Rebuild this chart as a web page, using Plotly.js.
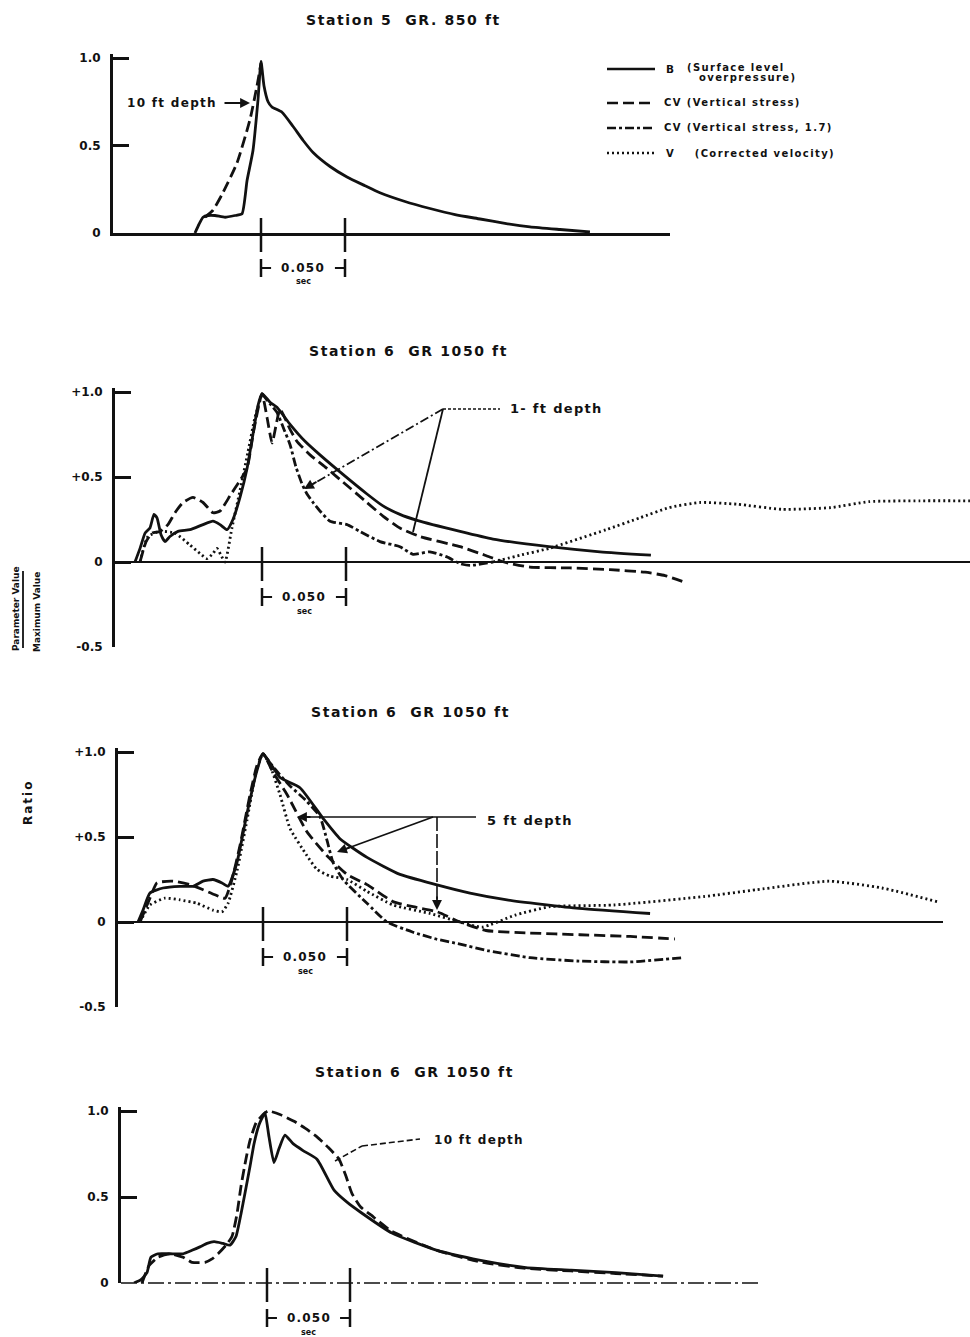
<!DOCTYPE html>
<html>
<head>
<meta charset="utf-8">
<script src="https://cdn.plot.ly/plotly-3.0.1.min.js"></script>
<style>html,body{margin:0;padding:0;background:#fff;}#chart{width:970px;height:1337px;}</style>
</head>
<body>
<div id="chart"></div>
<script>
// ---------------- DATA (time in ms from the peak mark, value = parameter / maximum) ----------------
// Panel 1 : Station 5, GR 850 ft, 10 ft depth
const s5_B_t = [-39.3,-36.9,-34.5,-31.5,-27.4,-21.4,-15.5,-11.3,-8.3,-4.8,-1.8,0,1.8,4.2,6.5,12.5,19.0,25.0,31.0,41.1,51.2,61.9,70.8,85.7,100.6,115.5,130.4,145.2,160.1,178.0,195.8];
const s5_B_v = [0,0.05,0.09,0.10,0.10,0.09,0.10,0.11,0.30,0.47,0.76,0.98,0.84,0.75,0.72,0.69,0.61,0.53,0.46,0.38,0.32,0.27,0.23,0.18,0.14,0.105,0.08,0.055,0.035,0.02,0.006];
const s5_CV_t = [-33.3,-28.6,-23.2,-14.3,-6.5,-2.4,0];
const s5_CV_v = [0.09,0.13,0.22,0.40,0.65,0.84,0.97];

// Panel 2 : Station 6, GR 1050 ft, 1 ft depth
const s6a_B_t = [-75.6,-72.6,-69.6,-66.7,-64.3,-62.5,-60.1,-57.7,-54.8,-50.0,-42.9,-35.1,-29.2,-25.0,-20.8,-17.3,-13.1,-8.9,-5.4,-2.4,0,4.8,8.9,16.7,25.6,34.5,46.4,62.5,72.0,82.1,92.3,117.9,137.5,170.8,201.2,231.5];
const s6a_B_v = [0,0.08,0.17,0.20,0.28,0.26,0.16,0.12,0.15,0.18,0.19,0.22,0.24,0.22,0.19,0.25,0.38,0.55,0.75,0.92,0.99,0.94,0.91,0.81,0.71,0.63,0.53,0.40,0.33,0.28,0.245,0.18,0.135,0.09,0.06,0.04];
const s6a_CV_t = [-72.6,-69.0,-65.5,-60.7,-56.0,-51.8,-47.0,-41.1,-35.1,-29.2,-25.0,-19.0,-13.1,-8.9,-4.8,0,3.0,6.0,8.3,10.7,16.7,20.8,28.6,37.5,49.4,61.3,72.0,82.1,94.0,117.9,132.7,144.0,159.5,183.3,207.1,228.0,239.9,251.8];
const s6a_CV_v = [0,0.12,0.17,0.18,0.22,0.29,0.35,0.38,0.35,0.29,0.30,0.39,0.48,0.55,0.78,0.99,0.85,0.70,0.80,0.90,0.78,0.71,0.63,0.56,0.46,0.36,0.27,0.20,0.15,0.09,0.04,0.0,-0.03,-0.035,-0.045,-0.06,-0.08,-0.12];
const s6a_CV17_t = [0,4.8,8.9,13.1,16.7,20.2,23.8,26.8,30.4,34.5,40.5,50.6,58.3,70.2,82.1,89.9,100.0,110.1,117.9,123.8,137.5];
const s6a_CV17_v = [0.99,0.93,0.88,0.78,0.69,0.56,0.46,0.40,0.35,0.30,0.24,0.22,0.18,0.12,0.09,0.045,0.06,0.03,-0.01,-0.02,0.0];
const s6a_V_t = [-72.6,-67.9,-60.7,-51.8,-42.9,-36.9,-32.7,-29.2,-26.8,-24.4,-22.0,-17.9,-13.1,-8.3,-4.2,0,null,137.5,153.6,170.8,204.8,225.0,242.3,260.7,282.7,309.5,338.7,361.3,391.7,421.4];
const s6a_V_v = [0,0.15,0.18,0.17,0.10,0.05,0.02,0.05,0.08,0.04,0.0,0.2,0.42,0.65,0.85,0.99,null,0.0,0.04,0.08,0.19,0.26,0.32,0.35,0.34,0.31,0.32,0.355,0.36,0.36];

// Panel 3 : Station 6, GR 1050 ft, 5 ft depth
const s6b_B_t = [-74.4,-71.4,-67.3,-59.5,-49.4,-41.7,-35.7,-29.8,-24.4,-20.8,-15.5,-9.5,-3.6,0,10.1,22.0,35.7,45.8,61.9,81.5,103.0,123.2,145.2,188.1,230.4];
const s6b_B_v = [0,0.07,0.17,0.20,0.21,0.21,0.24,0.25,0.23,0.21,0.35,0.64,0.89,0.99,0.85,0.79,0.61,0.49,0.38,0.28,0.22,0.17,0.13,0.08,0.05];
const s6b_CV_t = [-73.2,-67.3,-63.1,-53.6,-43.5,-35.7,-28.6,-22.6,-18.5,-13.7,-7.7,-3.6,0,6.0,14.3,26.2,38.1,50.0,61.9,77.4,89.3,103.6,117.3,132.7,158.9,188.7,218.5,245.2];
const s6b_CV_v = [0,0.14,0.23,0.24,0.22,0.19,0.16,0.14,0.25,0.45,0.75,0.92,0.99,0.88,0.75,0.53,0.39,0.28,0.22,0.12,0.09,0.06,0.0,-0.05,-0.065,-0.075,-0.085,-0.10];
const s6b_CV17_t = [0,7.1,16.1,25.0,33.9,38.1,41.7,47.6,61.9,73.8,89.3,103.0,117.3,134.5,158.9,188.1,218.5,249.4];
const s6b_CV17_v = [0.99,0.9,0.8,0.72,0.62,0.48,0.35,0.25,0.11,0.0,-0.06,-0.10,-0.13,-0.17,-0.21,-0.23,-0.235,-0.21];
const s6b_V_t = [-73.2,-67.3,-58.3,-49.4,-39.3,-29.8,-24.4,-20.8,-15.5,-9.5,-4.2,0,4.2,10.1,16.1,26.2,32.1,39.9,50.0,61.9,77.4,99.4,117.3,130.4,150.0,170.8,208.9,262.5,294.0,336.9,368.5,401.2];
const s6b_V_v = [0,0.10,0.14,0.13,0.11,0.07,0.06,0.11,0.30,0.60,0.88,0.99,0.92,0.75,0.55,0.39,0.31,0.27,0.25,0.18,0.10,0.05,0.0,-0.03,0.04,0.09,0.10,0.15,0.19,0.24,0.20,0.12];

// Panel 4 : Station 6, GR 1050 ft, 10 ft depth
const s6c_B_t = [-80.1,-75.9,-72.3,-69.9,-65.7,-58.4,-50.6,-45.2,-40.4,-36.1,-31.9,-26.5,-22.3,-18.7,-15.7,-13.3,-10.2,-7.8,-4.8,-2.4,-1.2,1.2,4.2,7.2,10.8,15.7,21.7,30.1,40.4,48.2,56.6,75.3,102.4,129.5,156.0,183.1,210.2,238.6];
const s6c_B_v = [0,0.02,0.06,0.15,0.17,0.17,0.17,0.19,0.21,0.23,0.24,0.23,0.22,0.27,0.40,0.52,0.68,0.81,0.92,0.97,0.99,0.85,0.70,0.78,0.86,0.81,0.77,0.72,0.54,0.47,0.41,0.29,0.19,0.13,0.09,0.075,0.06,0.04];
const s6c_CV_t = [-75.3,-71.1,-65.7,-58.4,-50.6,-45.2,-37.3,-33.1,-29.5,-24.7,-21.1,-18.1,-15.7,-12.7,-10.2,-6.6,-2.4,0.6,7.8,16.3,22.9,30.1,36.7,43.4,47.6,51.2,56.6,62.0,75.3,102.4,129.5,156.0,183.1,210.2,238.6];
const s6c_CV_v = [0,0.10,0.15,0.17,0.15,0.12,0.12,0.14,0.17,0.22,0.27,0.40,0.56,0.72,0.83,0.93,0.98,1.0,0.98,0.94,0.90,0.85,0.79,0.72,0.62,0.52,0.44,0.40,0.30,0.19,0.12,0.085,0.07,0.055,0.04];

// Tick values / labels and text
const ticks_pos = [0, 0.5, 1];
const ticks_pos_text = ['0', '0.5', '1.0'];
const ticks_signed = [-0.5, 0, 0.5, 1];
const ticks_signed_text = ['-0.5', '0', '+0.5', '+1.0'];
const scale_marks_ms = [0, 50];
const scale_label = '0.050';
const scale_unit = 'sec';
const panel_titles = ['Station 5  GR. 850 ft', 'Station 6  GR 1050 ft', 'Station 6  GR 1050 ft', 'Station 6  GR 1050 ft'];
const depth_labels = ['10 ft depth', '1- ft depth', '5 ft depth', '10 ft depth'];
const series_names = ['B', 'CV', 'CV', 'V'];
const series_desc = ['(Surface level', 'overpressure)', '(Vertical stress)', '(Vertical stress, 1.7)', '(Corrected velocity)'];

// ---------------- LAYOUT / STYLE ----------------
const W = 970, H = 1337;
const INK = '#111';
const FONT = 'DejaVu Sans, Liberation Sans, Arial, sans-serif';
const fx = px => px / W;
const fy = py => 1 - py / H;
const DASH = { B: 'solid', CV: '11px,5px', CV17: '9px,3px,3px,3px', V: '2px,3px' };
const sp = (s, ls) => '<span style="letter-spacing:' + ls + 'px">' + s + '</span>';

const PANELS = [
  { id: '',  left: 113, right: 670, top: 58,   bottom: 233,  ymin: 0,    peak: 261, pxms: 1.68, tv: ticks_pos,    tt: ticks_pos_text,    base: 'axis' },
  { id: '2', left: 115, right: 970, top: 392,  bottom: 647,  ymin: -0.5, peak: 262, pxms: 1.68, tv: ticks_signed, tt: ticks_signed_text, base: 'zero' },
  { id: '3', left: 118, right: 943, top: 752,  bottom: 1007, ymin: -0.5, peak: 263, pxms: 1.68, tv: ticks_signed, tt: ticks_signed_text, base: 'zero' },
  { id: '4', left: 121, right: 761, top: 1111, bottom: 1283, ymin: 0,    peak: 267, pxms: 1.66, tv: ticks_pos,    tt: ticks_pos_text,    base: 'dashed' }
];
const TITLE_POS = [[403, 20], [408, 351], [410, 712], [414, 1072]];

const layout = {
  width: W, height: H, margin: { l: 0, r: 0, t: 0, b: 0 },
  paper_bgcolor: '#fff', plot_bgcolor: 'rgba(0,0,0,0)', showlegend: false,
  font: { family: FONT, color: INK }, shapes: [], annotations: []
};
const bold = (size) => ({ family: FONT, size: size, color: INK, weight: 'bold' });
const text = (t, xpx, ypx, size, extra) => Object.assign({ text: t, xref: 'paper', yref: 'paper', x: fx(xpx), y: fy(ypx), showarrow: false, font: bold(size), xanchor: 'center', yanchor: 'middle' }, extra || {});
const EXT = 4;

PANELS.forEach((p, i) => {
  const unit = (p.bottom - p.top) / (1 - p.ymin);
  p.unit = unit;
  p.zeroPx = p.top + unit;
  p.xa = 'x' + p.id; p.ya = 'y' + p.id;
  layout['xaxis' + p.id] = {
    domain: [fx(p.left), fx(p.right)],
    range: [(p.left - p.peak) / p.pxms, (p.right - p.peak) / p.pxms],
    anchor: p.ya, showline: p.base === 'axis', linewidth: 2.5, linecolor: INK,
    showticklabels: false, ticks: '', showgrid: false, zeroline: false, fixedrange: true
  };
  layout['yaxis' + p.id] = {
    domain: [fy(p.bottom), fy(p.top - EXT)],
    range: [p.ymin, 1 + EXT / unit],
    anchor: p.xa, showline: true, linewidth: 3, linecolor: INK,
    ticks: 'inside', ticklen: 16, tickwidth: 3, tickcolor: INK,
    tickmode: 'array', tickvals: p.tv, ticktext: p.tt, tickfont: bold(12), ticklabelstandoff: 7,
    showgrid: false, zeroline: p.base === 'zero', zerolinewidth: 2, zerolinecolor: INK, fixedrange: true
  };
  if (p.base === 'dashed') {
    layout.shapes.push({ type: 'line', xref: p.xa, yref: 'paper', x0: layout['xaxis' + p.id].range[0], x1: layout['xaxis' + p.id].range[1], y0: fy(p.zeroPx), y1: fy(p.zeroPx), line: { color: INK, width: 1.6, dash: '16px,4px,3px,4px' } });
  }
  // panel title
  layout.annotations.push(text(sp(panel_titles[i], 1.6), TITLE_POS[i][0], TITLE_POS[i][1], 14));
  // 0.050 sec scale bar
  const yc = p.zeroPx + 35;
  scale_marks_ms.forEach(ms => {
    layout.shapes.push({ type: 'line', xref: p.xa, yref: 'paper', x0: ms, x1: ms, y0: fy(p.zeroPx - 15), y1: fy(p.zeroPx + 19), line: { color: INK, width: 2.5 } });
    layout.shapes.push({ type: 'line', xref: p.xa, yref: 'paper', x0: ms, x1: ms, y0: fy(yc - 9), y1: fy(yc + 9), line: { color: INK, width: 2.5 } });
  });
  const m0 = scale_marks_ms[0], m1 = scale_marks_ms[1], span = m1 - m0;
  layout.shapes.push({ type: 'line', xref: p.xa, yref: 'paper', x0: m0, x1: m0 + span * 0.12, y0: fy(yc), y1: fy(yc), line: { color: INK, width: 2 } });
  layout.shapes.push({ type: 'line', xref: p.xa, yref: 'paper', x0: m1 - span * 0.12, x1: m1, y0: fy(yc), y1: fy(yc), line: { color: INK, width: 2 } });
  layout.annotations.push({ text: sp(scale_label, 1.2), xref: p.xa, yref: 'paper', x: (m0 + m1) / 2, y: fy(yc), showarrow: false, font: bold(12), xanchor: 'center', yanchor: 'middle' });
  layout.annotations.push({ text: scale_unit, xref: p.xa, yref: 'paper', x: (m0 + m1) / 2, y: fy(yc + 14), showarrow: false, font: bold(8), xanchor: 'center', yanchor: 'middle' });
});

// ---------------- TRACES ----------------
const traces = [];
function addLine(p, t, v, key, name) {
  traces.push({ type: 'scatter', mode: 'lines', name: name, x: t, y: v, xaxis: p.xa, yaxis: p.ya,
    line: { color: INK, width: 2.8, dash: DASH[key], shape: 'spline', smoothing: 0.5 },
    connectgaps: false, hoverinfo: 'skip', showlegend: false });
}
const [P1, P2, P3, P4] = PANELS;
addLine(P1, s5_B_t, s5_B_v, 'B', 'B');
addLine(P1, s5_CV_t, s5_CV_v, 'CV', 'CV');
addLine(P2, s6a_V_t, s6a_V_v, 'V', 'V');
addLine(P2, s6a_CV17_t, s6a_CV17_v, 'CV17', 'CV 1.7');
addLine(P2, s6a_CV_t, s6a_CV_v, 'CV', 'CV');
addLine(P2, s6a_B_t, s6a_B_v, 'B', 'B');
addLine(P3, s6b_V_t, s6b_V_v, 'V', 'V');
addLine(P3, s6b_CV17_t, s6b_CV17_v, 'CV17', 'CV 1.7');
addLine(P3, s6b_CV_t, s6b_CV_v, 'CV', 'CV');
addLine(P3, s6b_B_t, s6b_B_v, 'B', 'B');
addLine(P4, s6c_CV_t, s6c_CV_v, 'CV', 'CV');
addLine(P4, s6c_B_t, s6c_B_v, 'B', 'B');

// ---------------- LEADERS / DEPTH LABELS (positions in pixels -> data units) ----------------
const toMs = (p, px) => (px - p.peak) / p.pxms;
const toVal = (p, py) => (p.zeroPx - py) / p.unit;
function seg(p, xa, ya, xb, yb, dash, w) {
  layout.shapes.push({ type: 'line', xref: p.xa, yref: p.ya, x0: toMs(p, xa), y0: toVal(p, ya), x1: toMs(p, xb), y1: toVal(p, yb), line: { color: INK, width: w || 1.8, dash: dash || 'solid' } });
}
function arrow(p, hx, hy, tx, ty) {
  layout.annotations.push({ text: '', xref: p.xa, yref: p.ya, axref: p.xa, ayref: p.ya, x: toMs(p, hx), y: toVal(p, hy), ax: toMs(p, tx), ay: toVal(p, ty), showarrow: true, arrowhead: 2, arrowsize: 1.1, arrowwidth: 1.8, arrowcolor: INK });
}
function dlabel(p, s, xpx, ypx, size) {
  layout.annotations.push({ text: sp(s, 1.3), xref: p.xa, yref: p.ya, x: toMs(p, xpx), y: toVal(p, ypx), showarrow: false, font: bold(size), xanchor: 'center', yanchor: 'middle' });
}
// panel 1
dlabel(P1, depth_labels[0], 172, 103, 12);
arrow(P1, 250, 103, 223, 103);
// panel 2
dlabel(P2, depth_labels[1], 556, 409, 13);
seg(P2, 443, 409, 500, 409, '3px,2px', 1.6);
seg(P2, 443, 409, 306, 488, '9px,3px,2px,3px', 1.8);
seg(P2, 443, 409, 413, 532, 'solid', 1.8);
arrow(P2, 304, 489, 318, 481);
// panel 3
dlabel(P3, depth_labels[2], 530, 820, 13);
seg(P3, 300, 817, 476, 817, 'solid', 1.5);
seg(P3, 433, 817, 340, 851, 'solid', 1.8);
seg(P3, 437, 817, 437, 905, '14px,3px', 1.6);
arrow(P3, 337, 852, 351, 847);
arrow(P3, 437, 910, 437, 895);
arrow(P3, 297, 817, 312, 817);
// panel 4
dlabel(P4, depth_labels[3], 479, 1140, 12);
seg(P4, 335, 1161, 362, 1146, '6px,3px', 1.6);
seg(P4, 362, 1146, 420, 1139, '6px,3px', 1.6);

// ---------------- LEGEND (drawn manually in panel 1 area) ----------------
const LEG = [['B', 69], ['CV', 103], ['CV17', 128], ['V', 153]];
LEG.forEach(([key, y]) => {
  layout.shapes.push({ type: 'line', xref: 'paper', yref: 'paper', x0: fx(607), x1: fx(655), y0: fy(y), y1: fy(y), line: { color: INK, width: 2.4, dash: DASH[key] } });
});
const LS = 1.4;
layout.annotations.push(text(series_names[0], 664, 69, 10.5, { xanchor: 'left' }));
layout.annotations.push(text(sp(series_desc[0], LS), 685, 67, 10, { xanchor: 'left' }));
layout.annotations.push(text(sp(series_desc[1], LS), 697, 78, 10, { xanchor: 'left' }));
layout.annotations.push(text(sp(series_names[1] + ' ' + series_desc[2], LS), 662, 103, 10, { xanchor: 'left' }));
layout.annotations.push(text(sp(series_names[2] + ' ' + series_desc[3], LS), 662, 128, 10, { xanchor: 'left' }));
layout.annotations.push(text(sp(series_names[3] + '    ' + series_desc[4], LS), 664, 153, 10, { xanchor: 'left' }));

// ---------------- Y LABEL ----------------
layout.annotations.push(text('Parameter Value', 16, 609, 9, { textangle: -90 }));
layout.annotations.push(text('Maximum Value', 37, 612, 9, { textangle: -90 }));
layout.shapes.push({ type: 'line', xref: 'paper', yref: 'paper', x0: fx(23), x1: fx(23), y0: fy(571), y1: fy(648), line: { color: INK, width: 1.8 } });
layout.annotations.push(text(sp('Ratio', 2), 28, 803, 12, { textangle: -90 }));

Plotly.newPlot('chart', traces, layout, { staticPlot: true, displayModeBar: false });
</script>
</body>
</html>
